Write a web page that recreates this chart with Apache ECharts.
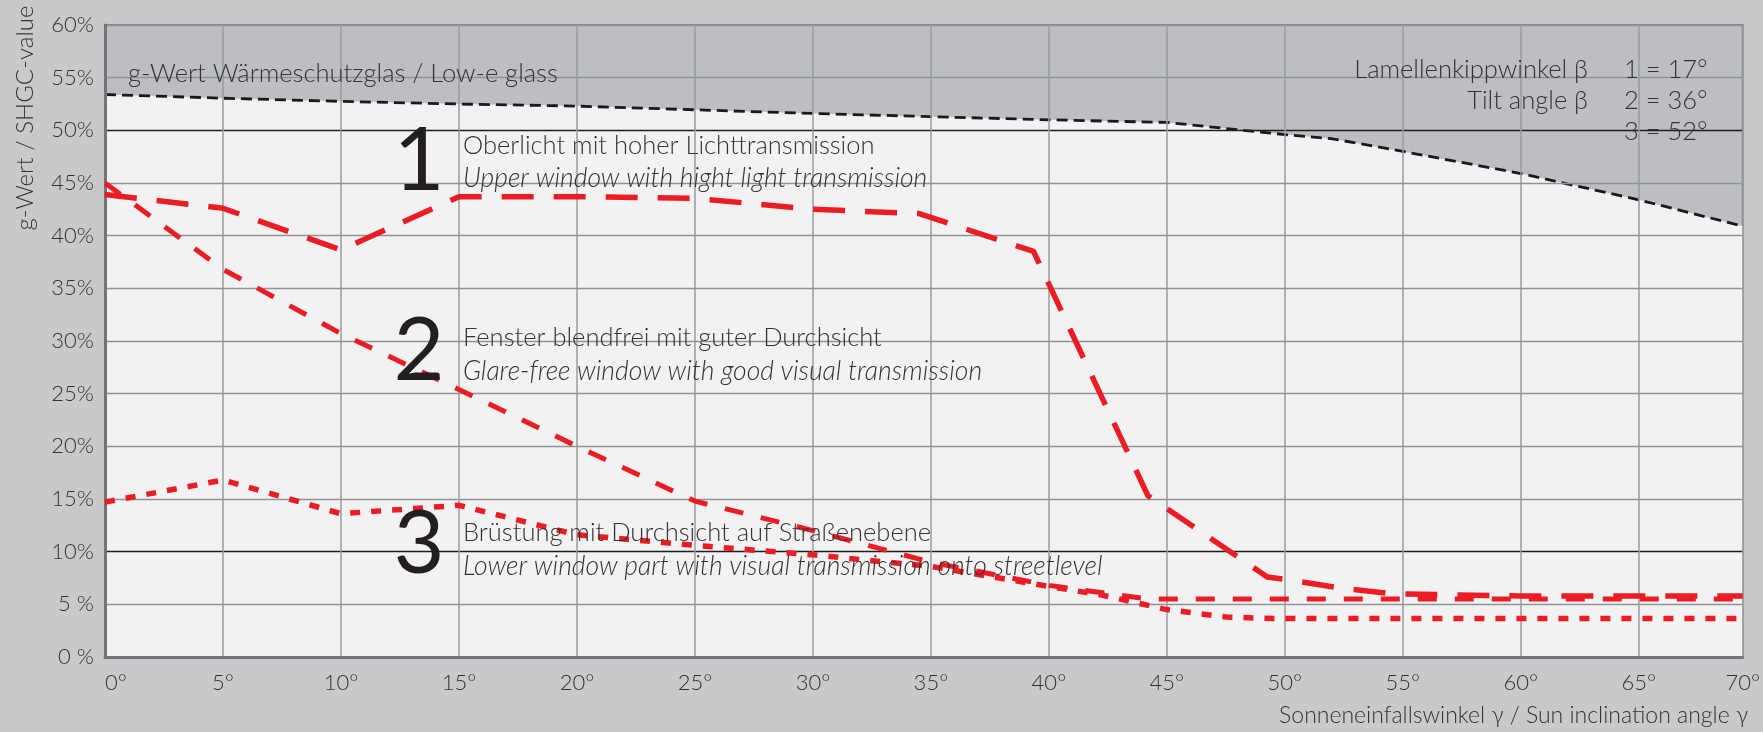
<!DOCTYPE html>
<html>
<head>
<meta charset="utf-8">
<script src="https://cdn.jsdelivr.net/npm/echarts@6/dist/echarts.min.js"></script>
<style>
html, body { margin: 0; padding: 0; background: #c8c9cb; }
#chart { width: 1763px; height: 732px; }
</style>
</head>
<body>
<div id="chart"></div>
<script>
// Sonneneinfallswinkel (deg) -> g-Wert (%)
var lowEAngles = [0, 5, 10, 15, 20, 25, 30, 35, 40, 45, 50, 52, 55, 60, 65, 69.4];
var lowEValues = [53.4, 53.05, 52.75, 52.5, 52.3, 51.95, 51.6, 51.3, 51.0, 50.75, 49.6, 49.2, 48.0, 45.9, 43.4, 40.9];

// 1 = 17 deg
var tilt17Angles = [0, 5, 10, 15, 20, 25, 30, 34.5, 39.35, 44.2, 49.25, 50.25, 52.5, 54.6, 57, 60, 65, 69.4];
var tilt17Values = [43.9, 42.6, 38.65, 43.7, 43.7, 43.55, 42.5, 42.1, 38.5, 15.3, 7.6, 7.3, 6.5, 6.0, 5.9, 5.8, 5.8, 5.8];

// 2 = 36 deg
var tilt36Angles = [0, 5, 10, 15, 20, 25, 30, 35, 40, 44.2, 50, 55, 60, 65, 69.4];
var tilt36Values = [45.0, 36.8, 30.7, 25.4, 20.0, 14.8, 12.0, 9.0, 6.8, 5.5, 5.5, 5.5, 5.5, 5.5, 5.5];

// 3 = 52 deg
var tilt52Angles = [0, 5, 10, 15, 20, 25, 30, 35, 40, 42.2, 45, 47.5, 49.5, 55, 60, 65, 69.4];
var tilt52Values = [14.7, 16.8, 13.6, 14.4, 11.6, 10.6, 9.7, 8.6, 6.7, 5.9, 4.5, 3.8, 3.65, 3.65, 3.65, 3.65, 3.65];

var RED = '#ec1c24';
var FONT = 'Lato, "Noto Sans", sans-serif';
var TXT = '#333333';

function pairs(xs, ys) {
    return xs.map(function (x, i) { return [x, ys[i]]; });
}

// grey grid lines, black ones at 10% and 50%
var ySplitColors = [];
for (var i = 0; i <= 12; i++) {
    ySplitColors.push(i === 2 || i === 10 ? '#1e1e1e' : '#8e9398');
}

function txt(x, y, text, size, opts) {
    opts = opts || {};
    return {
        type: 'text', x: x, y: y, z: 100, silent: true,
        rotation: opts.rotation || 0,
        style: {
            text: text,
            fontFamily: FONT,
            fontSize: size,
            fontWeight: opts.weight || 300,
            fontStyle: opts.italic ? 'italic' : 'normal',
            fill: opts.color || TXT,
            align: opts.align || 'left',
            verticalAlign: 'middle'
        }
    };
}

var chart = echarts.init(document.getElementById('chart'));
var option = {
    backgroundColor: '#c8c9cb',
    animation: false,
    textStyle: { fontFamily: FONT },
    grid: {
        left: 105, right: 12, top: 25, bottom: 75,
        show: true, backgroundColor: '#bdbec1',
        borderColor: '#85888b', borderWidth: 2
    },
    xAxis: {
        type: 'value', min: 0, max: 69.4, interval: 5, z: 2,
        axisLine: { show: true, onZero: false, lineStyle: { color: '#737477', width: 3 } },
        axisTick: { show: false },
        axisLabel: {
            margin: 15, fontSize: 22, fontWeight: 300, color: TXT,
            showMinLabel: true, showMaxLabel: true,
            alignMinLabel: 'left', alignMaxLabel: 'center',
            formatter: function (v) { return (v > 69 ? 70 : v) + '°'; }
        },
        splitLine: { show: true, lineStyle: { color: '#979ca1', width: 1.5 } }
    },
    yAxis: {
        type: 'value', min: 0, max: 60, interval: 5, z: 2,
        axisLine: { show: true, lineStyle: { color: '#737477', width: 3 } },
        axisTick: { show: false },
        axisLabel: {
            margin: 11, fontSize: 22, fontWeight: 300, color: TXT,
            showMinLabel: true, showMaxLabel: true,
            formatter: function (v) { return v < 10 ? v + ' %' : v + '%'; }
        },
        splitLine: { show: true, lineStyle: { color: ySplitColors, width: 1.3 } }
    },
    series: [
        {
            name: 'g-Wert Wärmeschutzglas', type: 'line', z: 1, symbol: 'none', silent: true,
            data: pairs(lowEAngles, lowEValues),
            lineStyle: { color: '#1a1a1a', width: 2.8, type: [11, 6] },
            areaStyle: { color: '#f2f2f2', opacity: 1, origin: 'start' }
        },
        {
            name: '1 = 17°', type: 'line', z: 5, symbol: 'none', silent: true,
            data: pairs(tilt17Angles, tilt17Values),
            lineStyle: { color: RED, width: 5.5, type: [32, 20] }
        },
        {
            name: '2 = 36°', type: 'line', z: 5, symbol: 'none', silent: true,
            data: pairs(tilt36Angles, tilt36Values),
            lineStyle: { color: RED, width: 5, type: [19, 18] }
        },
        {
            name: '3 = 52°', type: 'line', z: 5, symbol: 'none', silent: true,
            data: pairs(tilt52Angles, tilt52Values),
            lineStyle: { color: RED, width: 5.5, type: [10, 11] }
        }
    ],
    graphic: [
        txt(25, 118, 'g-Wert / SHGC-value', 24, { align: 'center', rotation: Math.PI / 2 }),
        txt(1748, 716, 'Sonneneinfallswinkel γ / Sun inclination angle γ', 23, { align: 'right' }),
        txt(128, 74, 'g-Wert Wärmeschutzglas / Low-e glass', 25.5),

        txt(1588, 70, 'Lamellenkippwinkel β', 25.5, { align: 'right' }),
        txt(1588, 101, 'Tilt angle β', 25.5, { align: 'right' }),
        txt(1624, 70, '1 = 17°', 25.5),
        txt(1624, 101, '2 = 36°', 25.5),
        txt(1624, 132, '3 = 52°', 25.5),

        txt(419, 162, '1', 88, { align: 'center', weight: 400, color: '#231f20' }),
        txt(463, 146, 'Oberlicht mit hoher Lichttransmission', 25.5),
        txt(463, 178, 'Upper window with hight light transmission', 26.5, { italic: true }),

        txt(419, 352, '2', 88, { align: 'center', weight: 400, color: '#231f20' }),
        txt(463, 338, 'Fenster blendfrei mit guter Durchsicht', 25.5),
        txt(463, 371, 'Glare-free window with good visual transmission', 26.5, { italic: true }),

        txt(419, 545, '3', 88, { align: 'center', weight: 400, color: '#231f20' }),
        txt(463, 533, 'Brüstung mit Durchsicht auf Straßenebene', 25.5),
        txt(463, 566, 'Lower window part with visual transmission onto streetlevel', 26.5, { italic: true })
    ]
};
chart.setOption(option);
</script>
</body>
</html>
